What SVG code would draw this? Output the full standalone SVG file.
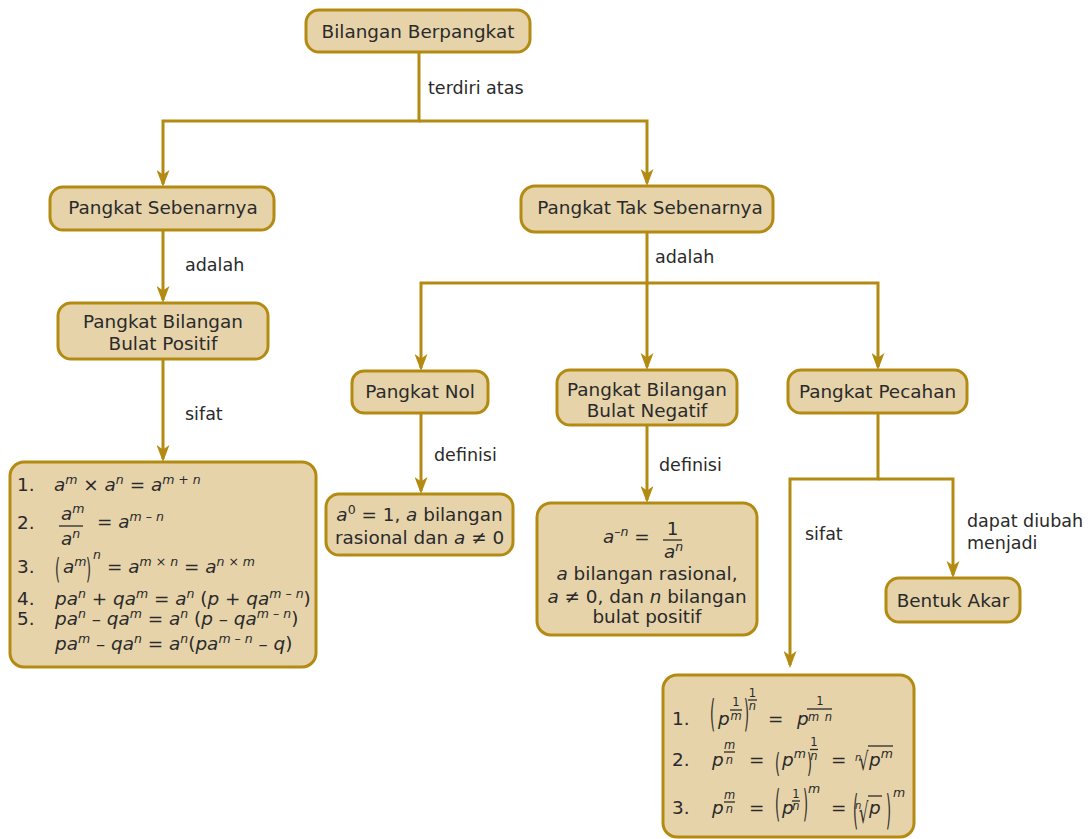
<svg xmlns="http://www.w3.org/2000/svg" width="1090" height="839" viewBox="0 0 1090 839">
<defs>
<marker id="ah" markerUnits="userSpaceOnUse" viewBox="0 0 17 13" refX="14" refY="6.5" markerWidth="17" markerHeight="13" orient="auto">
<path d="M0,0 L17,6.5 L0,13 L4.5,6.5 z" fill="#B38B12"/>
</marker>
</defs>
<style>
text{font-family:"DejaVu Sans",Verdana,sans-serif;fill:#2a2a2a;font-size:18.4px}
.box{fill:#E6D3AA;stroke:#B38B12;stroke-width:3}
.c{fill:none;stroke:#B38B12;stroke-width:3;stroke-linejoin:miter;marker-end:url(#ah)}
.m{text-anchor:middle}
.lb{font-size:17.5px}
.i{font-style:italic}
.s{font-size:12.5px}
.fs{font-size:11.5px}
.ri{font-size:10px}
.bar{stroke:#2a2a2a;stroke-width:1.3}
</style>

<g id="connectors">
<path class="c" d="M419,52 V121 H163 V184"/>
<path class="c" d="M419,121 H647 V183"/>
<path class="c" d="M163,230 V300"/>
<path class="c" d="M163,359 V459"/>
<path class="c" d="M647,232 V283 H421 V368"/>
<path class="c" d="M647,283 V367"/>
<path class="c" d="M647,283 H878 V367"/>
<path class="c" d="M421,413 V491"/>
<path class="c" d="M647,425 V500"/>
<path class="c" d="M878,413 V479 H790 V665"/>
<path class="c" d="M878,479 H953 V575"/>
<text class="lb" x="428" y="94">terdiri atas</text>
<text class="lb" x="185" y="271">adalah</text>
<text class="lb" x="185" y="420">sifat</text>
<text class="lb" x="655" y="263">adalah</text>
<text class="lb" x="434" y="461">definisi</text>
<text class="lb" x="659" y="471">definisi</text>
<text class="lb" x="805" y="540">sifat</text>
<text class="lb" x="967" y="527">dapat diubah</text>
<text class="lb" x="967" y="549">menjadi</text>
</g>

<g id="n-bilangan">
<rect class="box" x="306" y="10" width="224" height="42" rx="13"/>
<text class="m" x="418" y="38">Bilangan Berpangkat</text>
</g>

<g id="n-sebenarnya">
<rect class="box" x="50" y="187" width="224" height="43" rx="13"/>
<text class="m" x="163" y="214">Pangkat Sebenarnya</text>
</g>

<g id="n-positif">
<rect class="box" x="58" y="303" width="210" height="56" rx="13"/>
<text class="m" x="163" y="328">Pangkat Bilangan</text>
<text class="m" x="163" y="350">Bulat Positif</text>
</g>

<g id="n-sifat-bulat">
<rect class="box" x="10" y="462" width="306" height="205" rx="14"/>
<text x="17" y="491">1.</text>
<text x="54" y="491"><tspan class="i">a</tspan><tspan class="s i" dy="-7">m</tspan><tspan dy="7"> × </tspan><tspan class="i">a</tspan><tspan class="s i" dy="-7">n</tspan><tspan dy="7"> = </tspan><tspan class="i">a</tspan><tspan class="s" dy="-7"><tspan class="i">m</tspan> + <tspan class="i">n</tspan></tspan></text>
<text x="17" y="529">2.</text>
<text x="61" y="520"><tspan class="i">a</tspan><tspan class="s i" dy="-7">m</tspan></text>
<line class="bar" x1="59" y1="526" x2="83" y2="526"/>
<text x="61" y="545"><tspan class="i">a</tspan><tspan class="s i" dy="-7">n</tspan></text>
<text x="97" y="528">= <tspan class="i">a</tspan><tspan class="s" dy="-7"><tspan class="i">m</tspan> – <tspan class="i">n</tspan></tspan></text>
<text x="17" y="573">3.</text>
<text transform="translate(55,579) scale(0.7,1.52)">(</text>
<text x="63" y="573"><tspan class="i">a</tspan><tspan class="s i" dy="-7">m</tspan></text>
<text transform="translate(86,579) scale(0.7,1.52)">)</text>
<text class="s i" x="93" y="559">n</text>
<text x="107" y="573">= <tspan class="i">a</tspan><tspan class="s" dy="-7"><tspan class="i">m</tspan> × <tspan class="i">n</tspan></tspan><tspan dy="7"> = </tspan><tspan class="i">a</tspan><tspan class="s" dy="-7"><tspan class="i">n</tspan> × <tspan class="i">m</tspan></tspan></text>
<text x="17" y="605">4.</text>
<text x="55" y="605"><tspan class="i">pa</tspan><tspan class="s i" dy="-7">n</tspan><tspan dy="7"> + </tspan><tspan class="i">qa</tspan><tspan class="s i" dy="-7">m</tspan><tspan dy="7"> = </tspan><tspan class="i">a</tspan><tspan class="s i" dy="-7">n</tspan><tspan dy="7"> (</tspan><tspan class="i">p</tspan> + <tspan class="i">qa</tspan><tspan class="s" dy="-7"><tspan class="i">m</tspan> – <tspan class="i">n</tspan></tspan><tspan dy="7">)</tspan></text>
<text x="17" y="625">5.</text>
<text x="55" y="625"><tspan class="i">pa</tspan><tspan class="s i" dy="-7">n</tspan><tspan dy="7"> – </tspan><tspan class="i">qa</tspan><tspan class="s i" dy="-7">m</tspan><tspan dy="7"> = </tspan><tspan class="i">a</tspan><tspan class="s i" dy="-7">n</tspan><tspan dy="7"> (</tspan><tspan class="i">p</tspan> – <tspan class="i">qa</tspan><tspan class="s" dy="-7"><tspan class="i">m</tspan> – <tspan class="i">n</tspan></tspan><tspan dy="7">)</tspan></text>
<text x="55" y="650"><tspan class="i">pa</tspan><tspan class="s i" dy="-7">m</tspan><tspan dy="7"> – </tspan><tspan class="i">qa</tspan><tspan class="s i" dy="-7">n</tspan><tspan dy="7"> = </tspan><tspan class="i">a</tspan><tspan class="s i" dy="-7">n</tspan><tspan dy="7">(</tspan><tspan class="i">pa</tspan><tspan class="s" dy="-7"><tspan class="i">m</tspan> – <tspan class="i">n</tspan></tspan><tspan dy="7"> – </tspan><tspan class="i">q</tspan>)</text>
</g>

<g id="n-tak">
<rect class="box" x="521" y="186" width="252" height="46" rx="14"/>
<text class="m" x="650" y="214">Pangkat Tak Sebenarnya</text>
</g>

<g id="n-nol">
<rect class="box" x="352" y="371" width="136" height="42" rx="12"/>
<text class="m" x="420" y="398">Pangkat Nol</text>
</g>

<g id="n-negatif">
<rect class="box" x="557" y="370" width="180" height="55" rx="13"/>
<text class="m" x="647" y="396">Pangkat Bilangan</text>
<text class="m" x="647" y="417">Bulat Negatif</text>
</g>

<g id="n-pecahan">
<rect class="box" x="788" y="370" width="179" height="43" rx="13"/>
<text class="m" x="877.5" y="398">Pangkat Pecahan</text>
</g>

<g id="n-def-nol">
<rect class="box" x="326" y="494" width="187" height="61" rx="13"/>
<text class="m" x="419.5" y="521"><tspan class="i">a</tspan><tspan class="s" dy="-7">0</tspan><tspan dy="7"> = 1, </tspan><tspan class="i">a</tspan> bilangan</text>
<text class="m" x="419.5" y="544">rasional dan <tspan class="i">a</tspan> ≠ 0</text>
</g>

<g id="n-def-negatif">
<rect class="box" x="537" y="503" width="220" height="132" rx="14"/>
<text x="603" y="543"><tspan class="i">a</tspan><tspan class="s" dy="-7">–<tspan class="i">n</tspan></tspan><tspan dy="7"> = </tspan></text>
<text class="m" x="672.5" y="535">1</text>
<line class="bar" x1="663" y1="540" x2="682" y2="540"/>
<text x="664" y="558"><tspan class="i">a</tspan><tspan class="s i" dy="-7">n</tspan></text>
<text class="m" x="647" y="580"><tspan class="i">a</tspan> bilangan rasional,</text>
<text class="m" x="647" y="603"><tspan class="i">a</tspan> ≠ 0, dan <tspan class="i">n</tspan> bilangan</text>
<text class="m" x="647" y="623">bulat positif</text>
</g>

<g id="n-akar">
<rect class="box" x="886" y="578" width="134" height="44" rx="13"/>
<text class="m" x="953" y="607">Bentuk Akar</text>
</g>

<g id="n-sifat-pecahan">
<rect class="box" x="663" y="675" width="251" height="162" rx="14"/>
<text x="672" y="725">1.</text>
<text transform="translate(710,727) scale(0.7,2)">(</text>
<text class="i" x="718" y="725">p</text>
<text class="fs m" x="736" y="706">1</text>
<line class="bar" x1="730" y1="710" x2="742" y2="710"/>
<text class="fs m i" x="736" y="720">m</text>
<text transform="translate(744,727) scale(0.7,2)">)</text>
<text class="fs m" x="752.5" y="697">1</text>
<line class="bar" x1="748" y1="700" x2="757" y2="700"/>
<text class="fs m i" x="752.5" y="710">n</text>
<text x="768" y="725">=</text>
<text class="i" x="797" y="725">p</text>
<text class="fs m" x="820" y="705">1</text>
<line class="bar" x1="807" y1="709" x2="832" y2="709"/>
<text class="fs m i" x="820" y="721">m&#8194;n</text>

<text x="672" y="766">2.</text>
<text class="i" x="712" y="766">p</text>
<text class="fs m i" x="729.5" y="749">m</text>
<line class="bar" x1="724" y1="752" x2="735" y2="752"/>
<text class="fs m i" x="729.5" y="764">n</text>
<text x="749" y="766">=</text>
<text transform="translate(775,771.5) scale(0.7,1.4)">(</text>
<text x="782" y="766"><tspan class="i">p</tspan><tspan class="s i" dy="-8">m</tspan></text>
<text transform="translate(807,771.5) scale(0.7,1.4)">)</text>
<text class="fs m" x="814" y="746">1</text>
<line class="bar" x1="810" y1="749.5" x2="818" y2="749.5"/>
<text class="fs m i" x="814" y="760">n</text>
<text x="831" y="766">=</text>
<text class="ri i" x="855" y="761">n</text>
<text transform="translate(859,769.5) scale(0.8,1.35)">√</text>
<line class="bar" x1="868" y1="746" x2="893" y2="746"/>
<text x="869" y="766"><tspan class="i">p</tspan><tspan class="s i" dy="-8">m</tspan></text>

<text x="672" y="814">3.</text>
<text class="i" x="712" y="814">p</text>
<text class="fs m i" x="729.5" y="799">m</text>
<line class="bar" x1="724" y1="802" x2="735" y2="802"/>
<text class="fs m i" x="729.5" y="813">n</text>
<text x="749" y="814">=</text>
<text transform="translate(775,817) scale(0.7,2)">(</text>
<text class="i" x="782" y="814">p</text>
<text class="fs m" x="796" y="798">1</text>
<line class="bar" x1="792" y1="801" x2="800" y2="801"/>
<text class="fs m i" x="796" y="810">n</text>
<text transform="translate(803,817) scale(0.7,2)">)</text>
<text class="s i" x="808" y="793">m</text>
<text x="831" y="814">=</text>
<text transform="translate(853,823.5) scale(0.7,2.25)">(</text>
<text class="ri i" x="855" y="809">n</text>
<text transform="translate(859,823) scale(0.8,1.55)">√</text>
<line class="bar" x1="868" y1="796" x2="882" y2="796"/>
<text class="i" x="869" y="814">p</text>
<text transform="translate(886,823.5) scale(0.7,2.25)">)</text>
<text class="s i" x="893" y="797">m</text>
</g>
</svg>
